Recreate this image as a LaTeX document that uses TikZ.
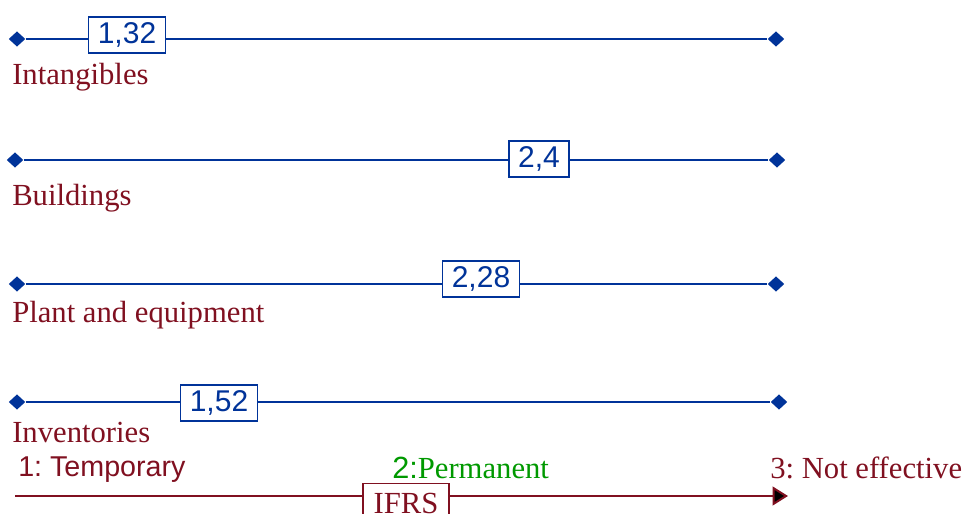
\documentclass[tikz,border=0pt]{standalone}
\usepackage{fontspec}
\setmainfont{Liberation Serif}
\setsansfont{Liberation Sans}
\usetikzlibrary{shapes.geometric,arrows.meta}
\definecolor{lineblue}{RGB}{0,51,153}
\definecolor{labelred}{RGB}{128,16,32}
\definecolor{okgreen}{RGB}{0,153,0}
\frenchspacing
\begin{document}
\begin{tikzpicture}[x=0.75pt,y=-0.75pt,
        tip/.style={diamond,fill=lineblue,inner sep=0pt,minimum width=12.5pt,minimum height=11.5pt},
        val/.style={draw=lineblue,fill=white,line width=1.2pt,text=lineblue,
            font=\sffamily\fontsize{22.5}{26}\selectfont,inner xsep=7pt,minimum height=27pt},
        lab/.style={anchor=base west,text=labelred,inner sep=0pt,font=\fontsize{23}{28}\selectfont},
        bar/.style={draw=lineblue,line width=1.5pt},
        axis/.style={draw=labelred,line width=1.5pt},
        ifrsbox/.style={draw=labelred,fill=white,line width=1.2pt,text=labelred,
            font=\fontsize{23}{28}\selectfont,inner xsep=8pt,minimum height=29pt}]
        \useasboundingbox (0,0) rectangle (964,514);

        \node[tip] (a1) at (17,39) {};
        \node[val] (v1) at (127,35) {1,32};
        \node[tip] (b1) at (776,39) {};
        \node[lab] (intang) at (12,84) {Intangibles};

        \node[tip] (a2) at (15,160) {};
        \node[val] (v2) at (539,159) {2,4};
        \node[tip] (b2) at (777,160) {};
        \node[lab] (build) at (12,205) {Buildings};

        \node[tip] (a3) at (17,284) {};
        \node[val] (v3) at (481,279) {2,28};
        \node[tip] (b3) at (776,284) {};
        \node[lab] (plant) at (12,322) {Plant and equipment};

        \node[tip] (a4) at (17,402) {};
        \node[val] (v4) at (219,403) {1,52};
        \node[tip] (b4) at (779,402) {};
        \node[lab] (invent) at (12,442) {Inventories};

        \path [bar] (a1) edge (v1.west |- a1);
        \path [bar] (v1.east |- b1) edge (b1);
        \path [bar] (a2) edge (v2.west |- a2);
        \path [bar] (v2.east |- b2) edge (b2);
        \path [bar] (a3) edge (v3.west |- a3);
        \path [bar] (v3.east |- b3) edge (b3);
        \path [bar] (a4) edge (v4.west |- a4);
        \path [bar] (v4.east |- b4) edge (b4);

        \node[lab,font=\sffamily\fontsize{21.5}{26}\selectfont] (temp) at (18,476) {1: Temporary};
        \node[lab,text=okgreen] (perm) at (392,478) {\sffamily 2:\rmfamily Permanent};
        \node[lab] (noteff) at (770,478) {3: Not effective};

        \coordinate (s) at (15,496);
        \coordinate (e) at (788,496);
        \node[ifrsbox] (ifrs) at (406,503) {IFRS};
        \path [axis] (s) edge (ifrs.west |- s);
        \path [axis] (ifrs.east |- s) edge [-{Triangle[length=11.5pt,width=14pt]}] (e);
\end{tikzpicture}
\end{document}
